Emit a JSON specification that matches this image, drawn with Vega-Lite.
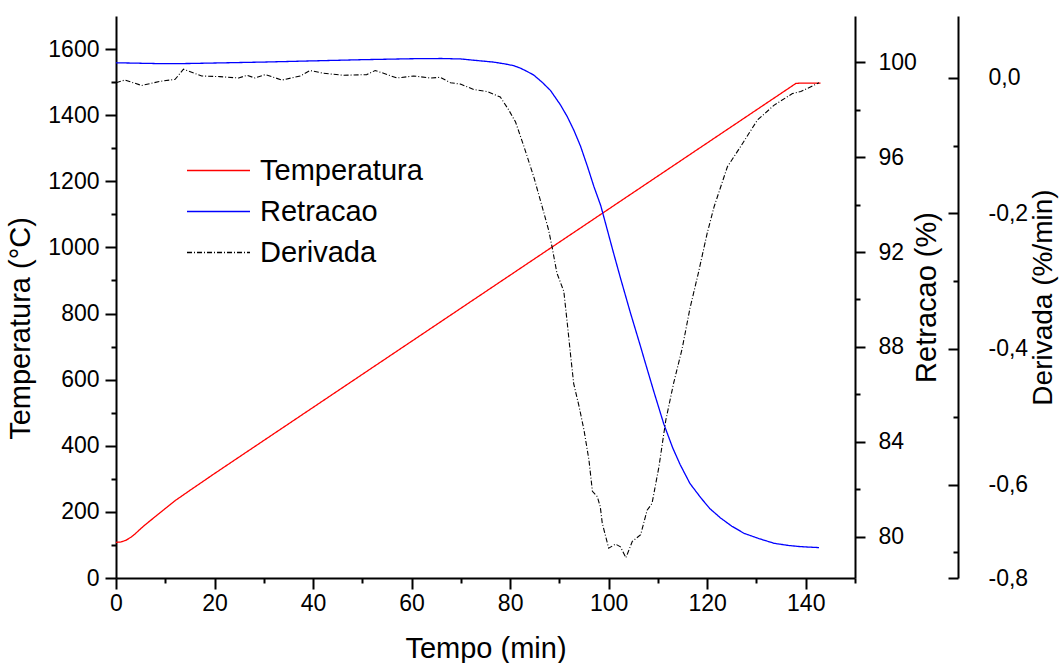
{
  "$schema": "https://vega.github.io/schema/vega-lite/v6.json",
  "autosize": {"type": "none"},
  "padding": {"left": 116, "top": 16, "right": 206, "bottom": 85},
  "width": 739,
  "height": 562,
  "background": "white",
  "config": {
    "view": {"stroke": null},
    "font": "Liberation Sans",
    "axis": {
      "labelFont": "Liberation Sans",
      "titleFont": "Liberation Sans",
      "labelFontSize": 23,
      "titleFontSize": 29,
      "titleFontWeight": "normal",
      "labelColor": "black",
      "titleColor": "black",
      "tickColor": "black",
      "domainColor": "black",
      "domainWidth": 2,
      "tickWidth": 2,
      "grid": false,
      "labelOverlap": false,
      "labelFlush": false
    }
  },
  "datasets": {
    "temp": [
      {"t": 0, "v": 108}, {"t": 1, "v": 109}, {"t": 2, "v": 114}, {"t": 3, "v": 123},
      {"t": 4, "v": 135}, {"t": 5, "v": 149}, {"t": 6, "v": 162}, {"t": 7, "v": 174},
      {"t": 8, "v": 186}, {"t": 10, "v": 210}, {"t": 12, "v": 234}, {"t": 15, "v": 265},
      {"t": 20, "v": 316}, {"t": 40, "v": 516}, {"t": 60, "v": 716}, {"t": 80, "v": 916},
      {"t": 100, "v": 1116}, {"t": 120, "v": 1316}, {"t": 138, "v": 1496}, {"t": 139, "v": 1497},
      {"t": 143, "v": 1497}
    ],
    "retr": [
      {"t": 0, "v": 99.97}, {"t": 5, "v": 99.95}, {"t": 10, "v": 99.93}, {"t": 15, "v": 99.94},
      {"t": 20, "v": 99.96}, {"t": 30, "v": 100.0}, {"t": 40, "v": 100.05}, {"t": 50, "v": 100.1},
      {"t": 60, "v": 100.14}, {"t": 66, "v": 100.15}, {"t": 70, "v": 100.13}, {"t": 74, "v": 100.05},
      {"t": 76.6, "v": 100.0}, {"t": 79, "v": 99.92}, {"t": 80.7, "v": 99.85}, {"t": 82, "v": 99.75},
      {"t": 83.5, "v": 99.6}, {"t": 84.8, "v": 99.45}, {"t": 86.5, "v": 99.15}, {"t": 88.2, "v": 98.8},
      {"t": 90.2, "v": 98.2}, {"t": 91.6, "v": 97.7}, {"t": 93, "v": 97.1}, {"t": 94.3, "v": 96.45},
      {"t": 95.7, "v": 95.6}, {"t": 97, "v": 94.76}, {"t": 98.4, "v": 93.95}, {"t": 99.7, "v": 92.95},
      {"t": 101, "v": 91.95}, {"t": 102.4, "v": 90.9}, {"t": 104.4, "v": 89.45}, {"t": 106.5, "v": 88.0},
      {"t": 107.2, "v": 87.5}, {"t": 109.2, "v": 86.1}, {"t": 111.2, "v": 84.75}, {"t": 113, "v": 83.75},
      {"t": 114.5, "v": 83.05}, {"t": 116.5, "v": 82.25}, {"t": 118.7, "v": 81.65}, {"t": 120.5, "v": 81.2},
      {"t": 122.7, "v": 80.8}, {"t": 125, "v": 80.45}, {"t": 127.5, "v": 80.15}, {"t": 130.5, "v": 79.93},
      {"t": 133.6, "v": 79.73}, {"t": 136.5, "v": 79.64}, {"t": 139, "v": 79.59}, {"t": 142.7, "v": 79.55}
    ],
    "deriv": [
      {"t": 0, "v": -0.007}, {"t": 1.8, "v": -0.003}, {"t": 5.2, "v": -0.011}, {"t": 8.9, "v": -0.005},
      {"t": 12, "v": -0.002}, {"t": 13.7, "v": 0.013}, {"t": 17.4, "v": 0.003}, {"t": 21.1, "v": 0.002},
      {"t": 24.9, "v": 0.0}, {"t": 26.6, "v": 0.004}, {"t": 28.2, "v": 0.0}, {"t": 30.3, "v": 0.005},
      {"t": 33.7, "v": -0.003}, {"t": 37.4, "v": 0.003}, {"t": 39.4, "v": 0.011}, {"t": 42.1, "v": 0.007},
      {"t": 46.2, "v": 0.004}, {"t": 50.9, "v": 0.005}, {"t": 52.6, "v": 0.011}, {"t": 54.3, "v": 0.007},
      {"t": 57, "v": 0.0}, {"t": 60.4, "v": 0.003}, {"t": 63.8, "v": 0.0}, {"t": 65.8, "v": 0.001},
      {"t": 67.9, "v": -0.007}, {"t": 69.9, "v": -0.009}, {"t": 72.6, "v": -0.017}, {"t": 75.3, "v": -0.02},
      {"t": 78, "v": -0.028}, {"t": 79.7, "v": -0.047}, {"t": 81.1, "v": -0.065}, {"t": 82.8, "v": -0.101},
      {"t": 84.8, "v": -0.146}, {"t": 86.5, "v": -0.19}, {"t": 87.8, "v": -0.224}, {"t": 88.5, "v": -0.249},
      {"t": 89.5, "v": -0.288}, {"t": 90.9, "v": -0.315}, {"t": 91.6, "v": -0.362}, {"t": 92.3, "v": -0.411},
      {"t": 92.9, "v": -0.451}, {"t": 94, "v": -0.485}, {"t": 95, "v": -0.52}, {"t": 96, "v": -0.564},
      {"t": 96.7, "v": -0.61}, {"t": 97.7, "v": -0.618}, {"t": 98.3, "v": -0.633}, {"t": 98.7, "v": -0.657},
      {"t": 100, "v": -0.694}, {"t": 101.4, "v": -0.688}, {"t": 102.4, "v": -0.692}, {"t": 103.5, "v": -0.708},
      {"t": 104.8, "v": -0.684}, {"t": 106.5, "v": -0.674}, {"t": 107.8, "v": -0.638}, {"t": 108.8, "v": -0.628},
      {"t": 110.2, "v": -0.574}, {"t": 111.6, "v": -0.505}, {"t": 113.2, "v": -0.45}, {"t": 114.9, "v": -0.4},
      {"t": 116.5, "v": -0.34}, {"t": 118.2, "v": -0.288}, {"t": 120, "v": -0.229}, {"t": 121.4, "v": -0.19},
      {"t": 124.1, "v": -0.131}, {"t": 126.8, "v": -0.101}, {"t": 130.2, "v": -0.062}, {"t": 133.6, "v": -0.04},
      {"t": 137.3, "v": -0.023}, {"t": 139, "v": -0.02}, {"t": 142.7, "v": -0.007}
    ]
  },
  "resolve": {"scale": {"y": "independent"}, "axis": {"x": "independent", "y": "independent"}},
  "layer": [
    {
      "data": {"name": "temp"},
      "mark": {"type": "line", "strokeWidth": 0, "opacity": 0},
      "encoding": {
        "x": {"field": "t", "type": "quantitative", "scale": {"domain": [0, 150], "nice": false},
          "axis": {"orient": "bottom", "values": [10, 30, 50, 70, 90, 110, 130, 150], "labels": false, "domain": false, "tickSize": 5, "title": null}},
        "y": {"field": "v", "type": "quantitative", "scale": {"domain": [0, 1700], "nice": false, "zero": false},
          "axis": {"orient": "left", "values": [100, 300, 500, 700, 900, 1100, 1300, 1500], "labels": false, "domain": false, "tickSize": 5, "title": null}}
      }
    },
    {
      "data": {"name": "retr"},
      "mark": {"type": "line", "strokeWidth": 0, "opacity": 0},
      "encoding": {
        "x": {"field": "t", "type": "quantitative", "axis": null},
        "y": {"field": "v", "type": "quantitative", "scale": {"domain": [78.27, 101.94], "nice": false, "zero": false},
          "axis": {"orient": "right", "values": [82, 86, 90, 94, 98], "labels": false, "domain": false, "tickSize": 5, "title": null}}
      }
    },
    {
      "data": {"name": "deriv"},
      "mark": {"type": "line", "strokeWidth": 0, "opacity": 0},
      "encoding": {
        "x": {"field": "t", "type": "quantitative", "axis": null},
        "y": {"field": "v", "type": "quantitative", "scale": {"domain": [-0.738, 0.0915], "nice": false, "zero": false},
          "axis": {"orient": "right", "offset": 103, "values": [-0.1, -0.3, -0.5, -0.7], "labels": false, "domain": false, "tickSize": -5, "title": null}}
      }
    },
    {
      "data": {"name": "temp"},
      "mark": {"type": "line", "strokeWidth": 1.3},
      "encoding": {
        "x": {"field": "t", "type": "quantitative", "scale": {"domain": [0, 150], "nice": false},
          "axis": {"orient": "bottom", "values": [0, 20, 40, 60, 80, 100, 120, 140], "tickSize": 11, "labelPadding": 3, "title": "Tempo (min)", "titlePadding": 19}},
        "y": {"field": "v", "type": "quantitative", "scale": {"domain": [0, 1700], "nice": false, "zero": false},
          "axis": {"orient": "left", "values": [0, 200, 400, 600, 800, 1000, 1200, 1400, 1600], "format": "d", "tickSize": 11, "labelPadding": 6, "title": "Temperatura (°C)", "titlePadding": 12, "titleY": 312}},
        "color": {"datum": "Temperatura", "type": "nominal",
          "scale": {"domain": ["Temperatura", "Retracao", "Derivada"], "range": ["#ff0000", "#0000ff", "#000000"]},
          "legend": {"title": null, "orient": "none", "legendX": 86, "legendY": 138, "symbolType": "M-2,0H2", "symbolSize": 992, "symbolStrokeWidth": 1.3, "labelFontSize": 29, "labelFont": "Liberation Sans", "labelColor": "black", "labelOffset": 25, "labelLimit": 400, "rowPadding": 9, "padding": 0}},
        "strokeDash": {"datum": "Temperatura", "type": "nominal",
          "scale": {"domain": ["Temperatura", "Retracao", "Derivada"], "range": [[1, 0], [1, 0], [5, 2, 1, 2]]},
          "legend": {"title": null, "orient": "none", "legendX": 86, "legendY": 138, "symbolType": "M-2,0H2", "symbolSize": 992, "symbolStrokeWidth": 1.3, "labelFontSize": 29, "labelFont": "Liberation Sans", "labelColor": "black", "labelOffset": 25, "labelLimit": 400, "rowPadding": 9, "padding": 0}}
      }
    },
    {
      "data": {"name": "retr"},
      "mark": {"type": "line", "strokeWidth": 1.3},
      "encoding": {
        "x": {"field": "t", "type": "quantitative", "axis": null},
        "y": {"field": "v", "type": "quantitative", "scale": {"domain": [78.27, 101.94], "nice": false, "zero": false},
          "axis": {"orient": "right", "values": [80, 84, 88, 92, 96, 100], "tickSize": 10, "labelPadding": 13, "title": "Retracao (%)", "titleAngle": 270, "titleBaseline": "top", "titlePadding": -4}},
        "color": {"datum": "Retracao", "type": "nominal"},
        "strokeDash": {"datum": "Retracao", "type": "nominal"}
      }
    },
    {
      "data": {"name": "deriv"},
      "mark": {"type": "line", "strokeWidth": 1.1},
      "encoding": {
        "x": {"field": "t", "type": "quantitative", "axis": null},
        "y": {"field": "v", "type": "quantitative", "scale": {"domain": [-0.738, 0.0915], "nice": false, "zero": false},
          "axis": {"orient": "right", "offset": 103, "values": [0, -0.2, -0.4, -0.6, -0.738], "tickSize": -10, "labelPadding": 40,
            "labelExpr": "datum.value < -0.7 ? '-0,8' : (datum.value < 0 ? '-' : '') + replace(format(abs(datum.value), '.1f'), '.', ',')",
            "title": "Derivada (%/min)", "titleFontSize": 28, "titleAngle": 270, "titleBaseline": "top", "titlePadding": 2}},
        "color": {"datum": "Derivada", "type": "nominal"},
        "strokeDash": {"datum": "Derivada", "type": "nominal"}
      }
    }
  ]
}
